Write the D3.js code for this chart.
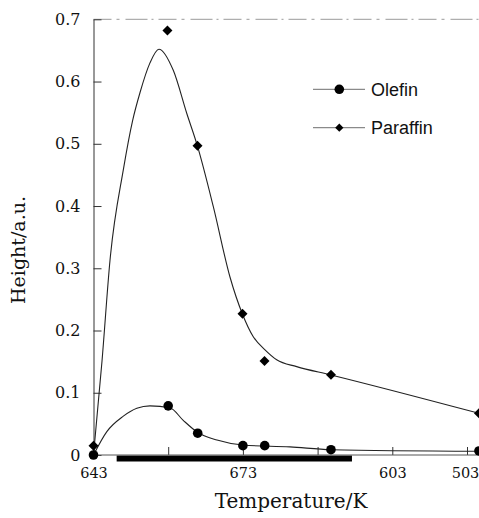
<!DOCTYPE html>
<html>
<head>
<meta charset="utf-8">
<script src="https://cdn.jsdelivr.net/npm/d3@7"></script>
<style>
  html, body { margin: 0; padding: 0; background: #fff; }
  svg { display: block; }
</style>
</head>
<body>
<svg id="chart" width="479" height="518"></svg>
<script>
// ---- data ----
// x positions are in tick-slot units (0..5); tick labels as printed on the axis
const xTickPos = [0, 1, 2, 3, 4, 5];
const xTickLabels = ["643", "", "673", "", "603", "503"];
const yTicks = [0, 0.1, 0.2, 0.3, 0.4, 0.5, 0.6, 0.7];

const olefinX = [0, 1.0, 1.395, 2.0, 2.292, 3.179, 5.16];
const olefinY = [0, 0.079, 0.035, 0.015, 0.015, 0.0085, 0.0065];

const paraffinX = [0, 0.99, 1.392, 1.995, 2.289, 3.179, 5.16];
const paraffinY = [0.015, 0.682, 0.497, 0.227, 0.151, 0.129, 0.067];

// fitted smooth curves
const olefinFitX = [0, 0.181, 0.395, 0.58, 0.756, 1.024, 1.198, 1.386, 1.653, 2.001, 2.63, 3.179, 5.16];
const olefinFitY = [0, 0.038, 0.062, 0.075, 0.079, 0.076, 0.056, 0.037, 0.024, 0.016, 0.013, 0.0085, 0.006];

const paraffinFitX = [0, 0.114, 0.221, 0.399, 0.525, 0.622, 0.756, 0.876, 1.068, 1.248, 1.39, 1.604, 1.827, 1.992, 2.139, 2.296, 2.452, 2.72, 3.166, 5.16];
const paraffinFitY = [0, 0.151, 0.313, 0.458, 0.538, 0.582, 0.630, 0.652, 0.618, 0.549, 0.497, 0.399, 0.286, 0.227, 0.190, 0.169, 0.153, 0.142, 0.129, 0.067];

// thick bar along the x axis (slot units)
const barRange = [0.31, 3.46];

const seriesNames = ["Olefin", "Paraffin"];

// ---- drawing ----
const svg = d3.select("#chart");
const plotLeft = 93.5, plotTop = 19.3, plotBottom = 455, plotRight = 479;

const x = d3.scaleLinear().domain([0, 5]).range([plotLeft, 467]);
const y = d3.scaleLinear().domain([0, 0.7]).range([plotBottom, plotTop]);

const serif = "'DejaVu Serif', serif";
const sans = "'Liberation Sans', Arial, sans-serif";

// top border (faint, dashed like the scan)
svg.append("line")
  .attr("x1", plotLeft).attr("x2", plotRight)
  .attr("y1", plotTop).attr("y2", plotTop)
  .attr("stroke", "#9a9a9a").attr("stroke-width", 1)
  .attr("stroke-dasharray", "18,5,3,6,22,4,2,5");

// thick bar
svg.append("rect")
  .attr("x", x(barRange[0])).attr("width", x(barRange[1]) - x(barRange[0]))
  .attr("y", plotBottom + 0.5).attr("height", 6)
  .attr("fill", "#000");

// y axis
const yAxis = d3.axisLeft(y).tickValues(yTicks)
  .tickFormat(d => d === 0 ? "0" : d.toFixed(1))
  .tickSizeInner(-8).tickSizeOuter(0).tickPadding(13);
const gy = svg.append("g").attr("transform", `translate(${plotLeft},0)`).call(yAxis);
gy.select(".domain").attr("stroke", "#333");
gy.selectAll(".tick line").attr("stroke", "#333");
gy.selectAll("text").attr("font-family", serif).attr("font-size", 16).attr("fill", "#111");

// x axis
const xAxis = d3.axisBottom(x).tickValues(xTickPos)
  .tickFormat((d, i) => xTickLabels[i])
  .tickSizeInner(-8).tickSizeOuter(0).tickPadding(13);
const gx = svg.append("g").attr("transform", `translate(0,${plotBottom})`).call(xAxis);
gx.select(".domain").remove();
gx.append("line").attr("x1", plotLeft).attr("x2", plotRight).attr("y1", 0).attr("y2", 0)
  .attr("stroke", "#555").attr("stroke-width", 1);
gx.selectAll(".tick line").attr("stroke", "#333");
gx.selectAll("text").attr("font-family", serif).attr("font-size", 14.5).attr("fill", "#111")
  .attr("dx", (d, i) => i === xTickPos.length - 1 ? -2 : 0);

// curves
const line = d3.line().x(d => x(d[0])).y(d => y(d[1])).curve(d3.curveMonotoneX);
const olefinFit = olefinFitX.map((v, i) => [v, olefinFitY[i]]);
const paraffinFit = paraffinFitX.map((v, i) => [v, paraffinFitY[i]]);

svg.append("path").datum(paraffinFit).attr("d", line)
  .attr("fill", "none").attr("stroke", "#222").attr("stroke-width", 1.1);
svg.append("path").datum(olefinFit).attr("d", line)
  .attr("fill", "none").attr("stroke", "#222").attr("stroke-width", 1.1);

// markers
const olefinPts = olefinX.map((v, i) => [v, olefinY[i]]);
const paraffinPts = paraffinX.map((v, i) => [v, paraffinY[i]]);

svg.append("g").selectAll("circle").data(olefinPts).join("circle")
  .attr("cx", d => x(d[0])).attr("cy", d => y(d[1])).attr("r", 4.8)
  .attr("fill", "#000");

const diamond = d3.symbol().type(d3.symbolSquare).size(50);
svg.append("g").selectAll("path").data(paraffinPts).join("path")
  .attr("d", diamond)
  .attr("transform", d => `translate(${x(d[0])},${y(d[1])}) rotate(45)`)
  .attr("fill", "#000");

// legend
const legY = [89.3, 127.7];
const leg = svg.append("g");
seriesNames.forEach((name, i) => {
  leg.append("line").attr("x1", 313).attr("x2", 365).attr("y1", legY[i]).attr("y2", legY[i])
    .attr("stroke", "#8a8a8a").attr("stroke-width", 1.2);
  if (i === 0) {
    leg.append("circle").attr("cx", 339.3).attr("cy", legY[i]).attr("r", 4.8).attr("fill", "#000");
  } else {
    leg.append("path").attr("d", d3.symbol().type(d3.symbolSquare).size(34))
      .attr("transform", `translate(339.3,${legY[i]}) rotate(45)`).attr("fill", "#000");
  }
  leg.append("text").attr("x", 371).attr("y", legY[i]).attr("dy", "0.36em")
    .attr("font-family", sans).attr("font-size", 18).attr("fill", "#111")
    .text(name);
});

// axis titles
svg.append("text").attr("x", 291).attr("y", 508)
  .attr("text-anchor", "middle").attr("font-family", serif).attr("font-size", 20)
  .attr("fill", "#111").text("Temperature/K");

svg.append("text")
  .attr("transform", "translate(24.5,250) rotate(-90)")
  .attr("text-anchor", "middle").attr("font-family", serif).attr("font-size", 19)
  .attr("fill", "#111").text("Height/a.u.");
</script>
</body>
</html>
